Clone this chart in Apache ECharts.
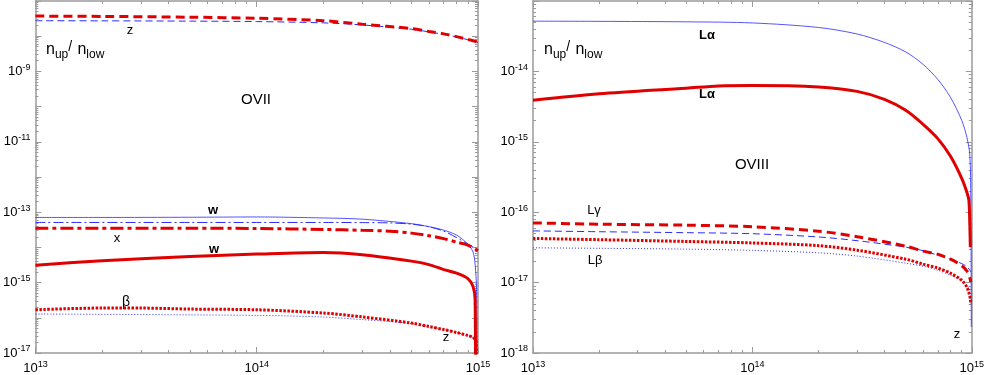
<!DOCTYPE html>
<html>
<head>
<meta charset="utf-8">
<script src="https://cdn.jsdelivr.net/npm/echarts@6/dist/echarts.min.js"></script>
<style>
  html, body { margin: 0; padding: 0; background: #fff; }
  #chart { width: 987px; height: 375px; }
</style>
</head>
<body>
<div id="chart"></div>
<script>
// OVII (left panel): n_up / n_low against density
const oviiX = [1e13, 2e13, 5e13, 1e14, 2e14, 3e14, 5e14, 6e14, 7e14, 8e14, 9e14, 1e15];
const oviiZRed = [3.71e-8, 3.63e-8, 3.45e-8, 3.21e-8, 2.74e-8, 2.18e-8, 1.64e-8, 1.36e-8, 1.16e-8, 9.7e-9, 8.1e-9, 6.8e-9];
const oviiZBlue = [2.74e-8, 2.72e-8, 2.67e-8, 2.59e-8, 2.38e-8, 2.08e-8, 1.57e-8, 1.32e-8, 1.12e-8, 9.5e-9, 7.9e-9, 6.65e-9];

const oviiWBlueX = [1e13, 2e13, 5e13, 1e14, 2e14, 3e14, 5e14, 6e14, 7e14, 8e14, 9e14, 9.5e14, 9.7e14, 9.85e14, 9.92e14];
const oviiWBlue = [7.08e-14, 7.08e-14, 7.17e-14, 7.31e-14, 6.85e-14, 6.33e-14, 4.72e-14, 3.88e-14, 3.08e-14, 2.23e-14, 1.24e-14, 7.33e-15, 3.35e-15, 6.55e-16, 1e-18];

const oviiXLineX = [1e13, 5e13, 1e14, 2e14, 3e14, 4e14, 5e14, 6e14, 7e14, 8e14, 9e14, 1e15];
const oviiXBlue = [5.1e-14, 5.1e-14, 5.1e-14, 5.1e-14, 5.05e-14, 4.95e-14, 4.57e-14, 3.85e-14, 2.89e-14, 1.9e-14, 1.24e-14, 8.9e-15];
const oviiXRed = [3.52e-14, 3.5e-14, 3.45e-14, 3.23e-14, 3.05e-14, 2.89e-14, 2.54e-14, 2.15e-14, 1.77e-14, 1.41e-14, 1.16e-14, 7.98e-15];

const oviiWRedX = [1e13, 2e13, 5e13, 1e14, 2e14, 3e14, 5e14, 6e14, 7e14, 8e14, 9e14, 9.5e14, 9.7e14, 9.75e14];
const oviiWRed = [3.13e-15, 4.15e-15, 5.47e-15, 6.44e-15, 7.19e-15, 6.22e-15, 4.07e-15, 3.24e-15, 2.34e-15, 1.86e-15, 1.3e-15, 7.7e-16, 3.4e-16, 1e-18];

const oviiBetaRedX = [1e13, 2e13, 3e13, 5e13, 1e14, 2e14, 3e14, 5e14, 6e14, 7e14, 8e14, 9e14, 9.5e14, 9.8e14, 9.85e14];
const oviiBetaRed = [1.69e-16, 1.89e-16, 1.89e-16, 1.77e-16, 1.69e-16, 1.37e-16, 1.06e-16, 7.1e-17, 5.65e-17, 4.64e-17, 3.82e-17, 3.14e-17, 2.75e-17, 2.19e-17, 1e-18];
const oviiBetaBlueX = [1e13, 1e14, 2e14, 3e14, 4e14, 5e14, 6e14, 7e14, 8e14, 9e14, 9.5e14, 9.8e14, 9.85e14];
const oviiBetaBlue = [1.28e-16, 1.17e-16, 1.05e-16, 8.9e-17, 7.83e-17, 6.87e-17, 5.65e-17, 4.64e-17, 3.82e-17, 3.14e-17, 2.75e-17, 2.19e-17, 1e-18];

// OVIII (right panel)
const oviiiLaBlueX = [1e13, 2e13, 5e13, 1e14, 2e14, 3e14, 4e14, 5e14, 6e14, 7e14, 8e14, 9e14, 9.5e14, 9.8e14, 9.9e14, 9.95e14];
const oviiiLaBlue = [5.17e-14, 5.14e-14, 5.06e-14, 4.88e-14, 4.21e-14, 3.4e-14, 2.58e-14, 1.89e-14, 1.26e-14, 7.7e-15, 4.28e-15, 2.02e-15, 1.16e-15, 6.44e-16, 1.48e-16, 2.34e-18];

const oviiiLaRedX = [1e13, 2e13, 5e13, 7e13, 1e14, 2e14, 3e14, 4e14, 5e14, 6e14, 7e14, 8e14, 9e14, 9.5e14, 9.7e14, 9.8e14, 9.85e14];
const oviiiLaRed = [3.88e-15, 4.8e-15, 5.78e-15, 6.22e-15, 6.32e-15, 6.02e-15, 5.2e-15, 4.01e-15, 2.8e-15, 1.77e-15, 1.11e-15, 6.22e-16, 3.03e-16, 1.92e-16, 1.48e-16, 6.55e-17, 3.19e-17];

const oviiiX = [1e13, 2e13, 5e13, 1e14, 2e14, 3e14, 5e14, 6e14, 7e14, 8e14, 9e14, 9.5e14, 9.8e14, 9.9e14];
const oviiiLgRed = [7.05e-17, 6.76e-17, 6.54e-17, 6.22e-17, 5.37e-17, 4.49e-17, 3.29e-17, 2.8e-17, 2.53e-17, 2.15e-17, 1.74e-17, 1.46e-17, 1.16e-17, 1.02e-17];
const oviiiLgBlue = [5.43e-17, 5.28e-17, 5.12e-17, 4.95e-17, 4.45e-17, 3.94e-17, 3.19e-17, 2.84e-17, 2.45e-17, 2.15e-17, 1.86e-17, 1.69e-17, 1.5e-17, 1.41e-17];
const oviiiLbRed = [4.24e-17, 4.07e-17, 3.84e-17, 3.66e-17, 3.35e-17, 2.89e-17, 2.15e-17, 1.83e-17, 1.61e-17, 1.36e-17, 1.08e-17, 8.6e-18, 6.4e-18, 4.96e-18];
const oviiiLbBlue = [3.12e-17, 3.07e-17, 2.99e-17, 2.87e-17, 2.65e-17, 2.38e-17, 1.89e-17, 1.71e-17, 1.5e-17, 1.28e-17, 1.07e-17, 9.2e-18, 7.8e-18];

const RED = '#e00000';
const BLUE = '#2a2aff';
const AXIS = '#9a9a9a';
const FONT = 'Liberation Sans';

const powRich = {
  b: { fontSize: 13, fontFamily: FONT, color: '#000' },
  s: { fontSize: 9, fontFamily: FONT, color: '#000', padding: [0, 0, 8, 0] }
};
function pow(v) {
  return '{b|10}{s|' + Math.round(Math.log10(v)) + '}';
}

function axisBase(gridIndex, position, min, max, label) {
  return {
    type: 'log', logBase: 10, gridIndex, position, min, max,
    axisLine: { show: true, onZero: false, lineStyle: { color: AXIS, width: 1.5 } },
    axisTick: { show: true, inside: true, length: 6, lineStyle: { color: AXIS } },
    minorTick: { show: true, splitNumber: 9, length: 3, lineStyle: { color: AXIS } },
    splitLine: { show: false },
    axisLabel: label ? { show: true, formatter: label, rich: powRich, margin: 7 } : { show: false }
  };
}

const xAxes = [
  axisBase(0, 'bottom', 1e13, 1e15, pow),
  axisBase(0, 'top', 1e13, 1e15, null),
  axisBase(1, 'bottom', 1e13, 1e15, pow),
  axisBase(1, 'top', 1e13, 1e15, null)
];
// max a hair under 1e-7 so the log scale picks one tick per decade
const leftY = axisBase(0, 'left', 1e-17, 9.95e-8, v => {
  const e = Math.round(Math.log10(v));
  return e % 2 !== 0 && e <= -9 ? pow(v) : '';
});
leftY.splitNumber = 10;
leftY.axisLabel.margin = 5;
const rightY = axisBase(1, 'left', 1e-18, 1e-13, v => Math.round(Math.log10(v)) < -13 ? pow(v) : '');
rightY.axisLabel.margin = 5;
const leftY2 = axisBase(0, 'right', 1e-17, 9.95e-8, null);
leftY2.splitNumber = 10;
const rightY2 = axisBase(1, 'right', 1e-18, 1e-13, null);

function line(xs, ys, panel, color, width, type) {
  return {
    type: 'line', xAxisIndex: panel * 2, yAxisIndex: panel * 2,
    data: xs.map((x, i) => [x, ys[i]]),
    symbol: 'none', silent: true, clip: true,
    smooth: 0.3,
    lineStyle: { color, width, type, cap: 'butt' }
  };
}

const DASH_R = [9, 5], DASH_B = [7, 4];
const DD_R = [13, 4, 4, 4], DD_B = [10, 3, 2, 3];
const DOT_R = [2.5, 1.5], DOT_B = [1, 2];

const series = [
  line(oviiX, oviiZBlue, 0, BLUE, 1, DASH_B),
  line(oviiX, oviiZRed, 0, RED, 3, DASH_R),
  line(oviiWBlueX, oviiWBlue, 0, BLUE, 0.8, 'solid'),
  line(oviiXLineX, oviiXBlue, 0, BLUE, 1, DD_B),
  line(oviiXLineX, oviiXRed, 0, RED, 3, DD_R),
  line(oviiWRedX, oviiWRed, 0, RED, 3, 'solid'),
  line(oviiBetaBlueX, oviiBetaBlue, 0, BLUE, 1, DOT_B),
  line(oviiBetaRedX, oviiBetaRed, 0, RED, 3, DOT_R),
  line(oviiiLaBlueX, oviiiLaBlue, 1, BLUE, 0.8, 'solid'),
  line(oviiiLaRedX, oviiiLaRed, 1, RED, 3, 'solid'),
  line(oviiiX, oviiiLgBlue, 1, BLUE, 1, DASH_B),
  line(oviiiX, oviiiLgRed, 1, RED, 3, DASH_R),
  line(oviiiX.slice(0, 13), oviiiLbBlue, 1, BLUE, 1, DOT_B),
  line(oviiiX, oviiiLbRed, 1, RED, 3, DOT_R)
];

function txt(x, y, text, size, bold) {
  return {
    type: 'text', x, y, silent: true,
    style: { text, fontSize: size, fontFamily: FONT, fontWeight: bold ? 'bold' : 'normal', fill: '#000', align: 'center', verticalAlign: 'middle' }
  };
}
const ratioRich = {
  n: { fontSize: 16, fontFamily: FONT, fill: '#000' },
  u: { fontSize: 12, fontFamily: FONT, fill: '#000', padding: [10, 0, 0, 0] },
  sl: { fontSize: 14, fontFamily: FONT, fill: '#000', padding: [0, 2, 5, 0] }
};
function ratio(x, y) {
  return {
    type: 'text', x, y, silent: true,
    style: { text: '{n|n}{u|up}{sl|/} {n|n}{u|low}', rich: ratioRich, fill: '#000', verticalAlign: 'middle' }
  };
}

const chart = echarts.init(document.getElementById('chart'), null, { renderer: 'canvas' });
chart.setOption({
  animation: false,
  backgroundColor: '#fff',
  grid: [
    { left: 35, top: 1, width: 443, height: 353 },
    { left: 533, top: 1, width: 442, height: 352 }
  ],
  xAxis: xAxes,
  yAxis: [leftY, leftY2, rightY, rightY2],
  series,
  graphic: [
    ratio(46, 50),
    txt(130, 30, 'z', 13),
    txt(256, 100, 'OVII', 15),
    txt(213, 210, 'w', 13, true),
    txt(117, 238, 'x', 13),
    txt(214, 249, 'w', 13, true),
    txt(126, 302, 'β', 14),
    txt(446, 337, 'z', 13),
    ratio(544, 50),
    txt(707, 35, 'Lα', 13, true),
    txt(707, 94, 'Lα', 13, true),
    txt(752, 165, 'OVIII', 15),
    txt(594, 210, 'Lγ', 13),
    txt(595, 260, 'Lβ', 13),
    txt(957, 334, 'z', 13)
  ]
});
</script>
</body>
</html>
